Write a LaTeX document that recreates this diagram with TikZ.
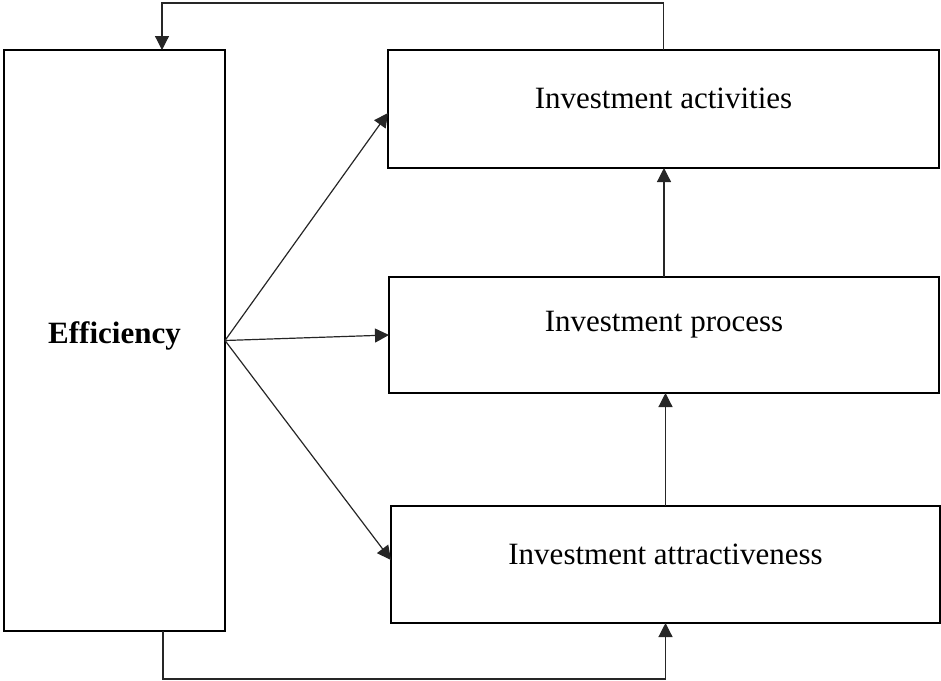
\documentclass[tikz,border=0pt]{standalone}
\usepackage{fontspec}
\setmainfont{Liberation Serif}
\usetikzlibrary{arrows.meta}
\begin{document}
\begin{tikzpicture}[x=1pt,y=-1pt,
  box/.style={draw=black,line width=2pt,inner sep=0pt,outer sep=0pt,fill=white},
  lbl/.style={inner sep=0pt,anchor=base,font=\fontsize{31}{36}\selectfont},
  arr/.style={draw=black!85,line width=1.2pt,-{Triangle[length=14pt,width=14pt]}}]
\useasboundingbox (0,0) rectangle (941,680);
% boxes
\node[box,minimum width=221pt,minimum height=581pt] (eff)  at (114.5,340.5) {};
\node[box,minimum width=551pt,minimum height=118pt] (act)  at (663.5,109) {};
\node[box,minimum width=550pt,minimum height=116pt] (proc) at (664,335) {};
\node[box,minimum width=549pt,minimum height=117pt] (attr) at (665.5,564.5) {};
% texts
\node[lbl] (teff)  at (114.5,343) {\bfseries Efficiency};
\node[lbl] (tact)  at (663.5,108) {Investment activities};
\node[lbl] (tproc) at (664,331)   {Investment process};
\node[lbl] (tattr) at (665.5,564) {Investment attractiveness};
% influence of efficiency
\draw[arr] (eff.east) -- ([yshift=-4pt]act.west);
\draw[arr] (eff.east) -- (proc.west);
\draw[arr] (eff.east) -- ([yshift=4.5pt]attr.west);
% chain upwards
\draw[arr] (proc.north) -- (proc.north |- act.south);
\draw[arr] (attr.north) -- (attr.north |- proc.south);
% feedback loops
\coordinate (fbtop) at (162,3);
\coordinate (fbbot) at (163,679);
\draw[arr] (act.north) |- (fbtop) -- (fbtop |- eff.north);
\draw[arr] (fbbot |- eff.south) -- (fbbot) -| (attr.south);
\end{tikzpicture}
\end{document}
